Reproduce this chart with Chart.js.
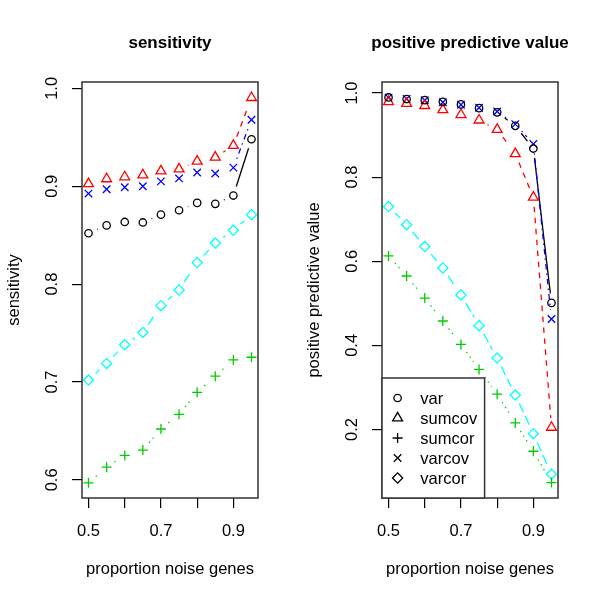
<!DOCTYPE html>
<html>
<head>
<meta charset="utf-8">
<script src="https://cdn.jsdelivr.net/npm/chart.js@4.4.0/dist/chart.umd.min.js"></script>
<style>
  html, body { margin: 0; padding: 0; background: #fff; }
  #wrap { position: relative; width: 600px; height: 600px; }
  canvas { position: absolute; top: 0; }
  #c1 { left: 0; }
  #c2 { left: 300px; }
</style>
</head>
<body>
<div id="wrap">
  <canvas id="c1" width="300" height="600"></canvas>
  <canvas id="c2" width="300" height="600"></canvas>
</div>
<script>
// ---------------- data ----------------
const noise = [0.5, 0.55, 0.6, 0.65, 0.7, 0.75, 0.8, 0.85, 0.9, 0.95];
const seriesNames = ['var', 'sumcov', 'sumcor', 'varcov', 'varcor'];

// sensitivity panel
const sensVar    = [0.852, 0.860, 0.8635, 0.863, 0.871, 0.8755, 0.883, 0.882, 0.8905, 0.948];
const sensSumcov = [0.9025, 0.9075, 0.9095, 0.9115, 0.9155, 0.9175, 0.9255, 0.9295, 0.9415, 0.9905];
const sensSumcor = [0.597, 0.613, 0.625, 0.6305, 0.652, 0.667, 0.6895, 0.706, 0.7226, 0.7253];
const sensVarcov = [0.8925, 0.897, 0.899, 0.900, 0.905, 0.908, 0.914, 0.913, 0.919, 0.968];
const sensVarcor = [0.702, 0.719, 0.738, 0.7506, 0.778, 0.794, 0.822, 0.842, 0.855, 0.871];

// positive predictive value panel
const ppvVar    = [0.9895, 0.9857, 0.983, 0.979, 0.973, 0.964, 0.954, 0.922, 0.868, 0.501];
const ppvSumcov = [0.979, 0.975, 0.970, 0.960, 0.9485, 0.9355, 0.913, 0.8555, 0.752, 0.205];
const ppvSumcor = [0.6126, 0.565, 0.5126, 0.458, 0.4024, 0.3429, 0.284, 0.2157, 0.1483, 0.0738];
const ppvVarcov = [0.989, 0.986, 0.983, 0.978, 0.972, 0.965, 0.956, 0.926, 0.879, 0.4626];
const ppvVarcor = [0.730, 0.687, 0.635, 0.584, 0.520, 0.447, 0.370, 0.282, 0.190, 0.0936];

// tick labels
const xTickLabels    = ['0.5', '', '0.7', '', '0.9'];
const sensTickLabels = ['0.6', '0.7', '0.8', '0.9', '1.0'];
const ppvTickLabels  = ['0.2', '0.4', '0.6', '0.8', '1.0'];

// ---------------- styles ----------------
const FONT = "'Liberation Sans', Arial, Helvetica, sans-serif";
const FS = 16.5;
const COLORS = ['#000000', '#FF0000', '#00CD00', '#0000FF', '#00FFFF'];
const STYLES = ['circle', 'triangle', 'cross', 'crossRot', 'rectRot'];
const RADII = [3.7, 5.7, 5.0, 5.3, 5.1];
const DASHES = [[], [5.5, 5.5], [1.4, 4.1], [1.4, 4.1, 5.5, 4.1], [9.6, 4.1]];
const LWD = 1.3;
const GAP = 9.5;

// lines with gaps around points (R type = "b")
const gapLines = {
  id: 'gapLines',
  beforeDatasetsDraw(chart) {
    const ctx = chart.ctx, a = chart.chartArea;
    ctx.save();
    ctx.beginPath();
    ctx.rect(a.left, a.top, a.right - a.left, a.bottom - a.top);
    ctx.clip();
    chart.data.datasets.forEach((ds, i) => {
      const pts = chart.getDatasetMeta(i).data;
      ctx.strokeStyle = COLORS[i];
      ctx.lineWidth = LWD;
      ctx.lineCap = 'butt';
      ctx.setLineDash(DASHES[i]);
      for (let j = 1; j < pts.length; j++) {
        const p = pts[j - 1], q = pts[j];
        const dx = q.x - p.x, dy = q.y - p.y;
        const d = Math.hypot(dx, dy);
        const f = GAP / d;
        if (f < 0.5) {
          ctx.lineDashOffset = 0;
          ctx.beginPath();
          ctx.moveTo(p.x + f * dx, p.y + f * dy);
          ctx.lineTo(q.x - f * dx, q.y - f * dy);
          ctx.stroke();
        }
      }
    });
    ctx.restore();
  }
};

const frame = {
  id: 'frame',
  afterDraw(chart) {
    const ctx = chart.ctx, a = chart.chartArea;
    ctx.save();
    ctx.strokeStyle = '#333';
    ctx.lineWidth = 1.5;
    ctx.strokeRect(a.left, a.top, a.right - a.left, a.bottom - a.top);
    // panel title centred over the plot region
    ctx.fillStyle = '#000';
    ctx.font = 'bold 17px ' + FONT;
    ctx.textAlign = 'center';
    ctx.textBaseline = 'middle';
    ctx.fillText(chart.options.plugins.panelTitle.text, (a.left + a.right) / 2, 43);
    ctx.restore();
  }
};

function symbol(ctx, style, x, y, r) {
  ctx.beginPath();
  if (style === 'circle') {
    ctx.arc(x, y, r, 0, Math.PI * 2);
  } else if (style === 'triangle') {
    for (let k = 0; k < 3; k++) {
      const ang = k * 2 * Math.PI / 3;
      const px = x + Math.sin(ang) * r, py = y - Math.cos(ang) * r;
      k === 0 ? ctx.moveTo(px, py) : ctx.lineTo(px, py);
    }
    ctx.closePath();
  } else if (style === 'cross') {
    ctx.moveTo(x - r, y); ctx.lineTo(x + r, y);
    ctx.moveTo(x, y - r); ctx.lineTo(x, y + r);
  } else if (style === 'crossRot') {
    const o = r * Math.SQRT1_2;
    ctx.moveTo(x - o, y - o); ctx.lineTo(x + o, y + o);
    ctx.moveTo(x + o, y - o); ctx.lineTo(x - o, y + o);
  } else if (style === 'rectRot') {
    ctx.moveTo(x - r, y); ctx.lineTo(x, y - r); ctx.lineTo(x + r, y); ctx.lineTo(x, y + r);
    ctx.closePath();
  }
  ctx.stroke();
}

const rLegend = {
  id: 'rLegend',
  afterDraw(chart) {
    const ctx = chart.ctx, a = chart.chartArea;
    const w = 102.6, h = 120;
    const left = a.left, top = a.bottom - h;
    ctx.save();
    ctx.fillStyle = '#fff';
    ctx.fillRect(left, top, w, h);
    ctx.strokeStyle = '#333';
    ctx.lineWidth = 1.5;
    ctx.strokeRect(left, top, w, h);
    ctx.font = FS + 'px ' + FONT;
    ctx.textBaseline = 'middle';
    ctx.textAlign = 'left';
    seriesNames.forEach((name, i) => {
      const y = top + 20 + i * 20;
      ctx.strokeStyle = '#000';
      ctx.lineWidth = LWD;
      ctx.setLineDash([]);
      symbol(ctx, STYLES[i], left + 15.6, y, RADII[i]);
      ctx.fillStyle = '#000';
      ctx.fillText(name, left + 38.3, y + 1);
    });
    ctx.restore();
  }
};

function makeChart(id, title, yTitle, values, yMin, yMax, yStep, yLabels, extra) {
  const datasets = seriesNames.map((name, i) => ({
    label: name,
    data: noise.map((x, j) => ({ x: x, y: values[i][j] })),
    showLine: false,
    pointStyle: STYLES[i],
    pointRadius: RADII[i],
    pointHoverRadius: RADII[i],
    pointBorderColor: COLORS[i],
    pointBackgroundColor: 'rgba(0,0,0,0)',
    pointBorderWidth: LWD,
    borderColor: COLORS[i]
  }));
  return new Chart(document.getElementById(id), {
    type: 'scatter',
    data: { datasets },
    options: {
      responsive: false,
      animation: false,
      events: [],
      layout: { padding: { left: 0, right: 42, top: 82, bottom: 19 } },
      plugins: {
        legend: { display: false },
        tooltip: { enabled: false },
        title: { display: false },
        panelTitle: { text: title }
      },
      scales: {
        x: {
          type: 'linear', min: 0.482, max: 0.968,
          afterFit: s => { s.height = 83; },
          border: { display: false },
          grid: { display: true, drawOnChartArea: false, drawTicks: true, tickLength: 10, color: '#000', lineWidth: 1.2 },
          ticks: {
            stepSize: 0.1, includeBounds: false, autoSkip: false, maxRotation: 0, minRotation: 0,
            padding: 14, color: '#000',
            font: { family: FONT, size: FS, lineHeight: 1.2 },
            callback: (v, i) => xTickLabels[i]
          },
          title: {
            display: true, text: 'proportion noise genes', color: '#000',
            font: { family: FONT, size: FS, lineHeight: 1.2 },
            padding: { top: 0, bottom: 2 }
          }
        },
        y: {
          type: 'linear', min: yMin, max: yMax,
          afterFit: s => { s.width = 82; },
          border: { display: false },
          grid: { display: true, drawOnChartArea: false, drawTicks: true, tickLength: 10, color: '#000', lineWidth: 1.2 },
          ticks: {
            stepSize: yStep, includeBounds: false, autoSkip: false,
            minRotation: 90, maxRotation: 90, crossAlign: 'center',
            padding: 8, color: '#000',
            font: { family: FONT, size: FS, lineHeight: 1.2 },
            callback: (v, i) => yLabels[i]
          },
          title: {
            display: true, text: yTitle, color: '#000',
            font: { family: FONT, size: FS, lineHeight: 1.2 },
            padding: { top: 5, bottom: 0 }
          }
        }
      }
    },
    plugins: [gapLines, frame].concat(extra)
  });
}

makeChart('c1', 'sensitivity', 'sensitivity',
  [sensVar, sensSumcov, sensSumcor, sensVarcov, sensVarcor],
  0.5815, 1.0065, 0.1, sensTickLabels, []);
makeChart('c2', 'positive predictive value', 'positive predictive value',
  [ppvVar, ppvSumcov, ppvSumcor, ppvVarcov, ppvVarcor],
  0.0372, 1.0262, 0.2, ppvTickLabels, [rLegend]);
</script>
</body>
</html>
